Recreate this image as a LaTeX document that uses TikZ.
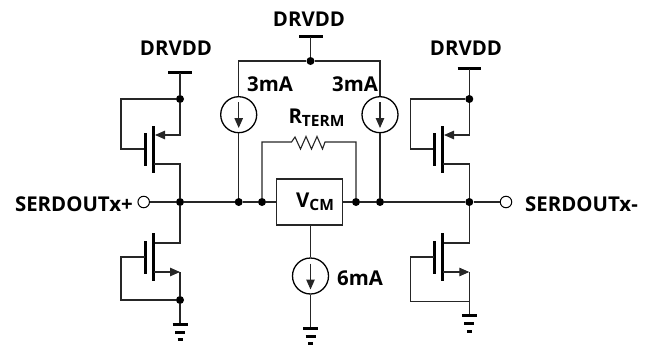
\documentclass[tikz,border=0pt]{standalone}
\usepackage{fontspec}
\setmainfont{Open Sans}
\usetikzlibrary{arrows.meta}
\tikzset{
  wire/.style={draw=black!85,line width=1.1pt},
  thick bar/.style={draw=black,line width=3pt},
  dotn/.style={circle,fill=black,inner sep=0pt,minimum size=8pt},
  port/.style={circle,draw=black,fill=white,line width=1pt,inner sep=0pt,minimum size=11.5pt},
  csrc/.style={circle,draw=black,line width=1.3pt,inner sep=0pt,minimum size=36pt},
  vbox/.style={draw=black!85,line width=1.1pt,inner sep=0pt,minimum width=66pt,minimum height=46pt},
  lbl/.style={font=\fontsize{20.4}{20.4}\selectfont\bfseries,inner sep=0pt,text=black},
  tip/.style={-{Triangle[length=10pt,width=8.5pt]},wire,shorten >=-1pt},
}
\newcommand{\gnd}[2]{%
  \draw[thick bar] (#1-7.5,#2) -- (#1+7.5,#2);
  \draw[thick bar] (#1-5,#2+8) -- (#1+5,#2+8);
  \draw[thick bar] (#1-2.5,#2+15.5) -- (#1+2.5,#2+15.5);
}
\begin{document}
\begin{tikzpicture}[x=1pt,y=-1pt]
\useasboundingbox (0,0) rectangle (652,345);
% --- left branch ---
\node[dotn] (La) at (180,99) {};
\node[dotn] (Lo) at (180,202) {};
\node[dotn] (Lb) at (180,300) {};
\node[port] (Pp) at (143.7,202) {};
\coordinate (Lv) at (180,72.7);
\coordinate (Lg) at (180,324);
\draw[thick bar] (168,72.7) -- (191.5,72.7);
\draw[wire] (Lv) -- (La);
\draw[wire] (La) -- (121,99) -- (121,149) -- (145,149);
\draw[thick bar] (145,133) -- (145,166);
\draw[thick bar] (153.5,126) -- (153.5,173);
\draw[tip] (La) -- (180,135) -- (156,135);
\draw[wire] (154,164) -- (180,164) -- (Lo);
\draw[wire] (Lo) -- (180,243) -- (154,243);
\draw[thick bar] (145,241) -- (145,274);
\draw[thick bar] (153.5,233) -- (153.5,281);
\draw[wire] (145,257) -- (121,257) -- (121,300) -- (Lb);
\draw[tip] (154,272) -- (179,272);
\draw[wire] (180,272) -- (Lb);
\draw[wire] (Lb) -- (Lg);
\gnd{180}{324}
% --- right branch ---
\node[dotn] (Ra) at (469.3,99) {};
\node[dotn] (Ro) at (469.3,202) {};
\node[port] (Pm) at (506,202) {};
\coordinate (Rv) at (469.3,68.7);
\coordinate (Rb) at (469.3,301.7);
\coordinate (Rg) at (469.3,315.7);
\draw[thick bar] (457.5,68.7) -- (481,68.7);
\draw[wire] (Rv) -- (Ra);
\draw[wire] (Ra) -- (410.7,99) -- (410.7,149) -- (434,149);
\draw[thick bar] (434,133) -- (434,166);
\draw[thick bar] (442.7,126) -- (442.7,173);
\draw[tip] (Ra) -- (469.3,135) -- (445,135);
\draw[wire] (443,164) -- (469.3,164) -- (Ro);
\draw[wire] (Ro) -- (469.3,243) -- (443,243);
\draw[thick bar] (434,241) -- (434,274);
\draw[thick bar] (442.7,233) -- (442.7,281);
\draw[wire] (434,257) -- (410.7,257) -- (410.7,301.7) -- (Rb);
\draw[tip] (443,272) -- (468.3,272);
\draw[wire] (469.3,272) -- (Rb) -- (Rg);
\gnd{469.3}{315.7}
% --- centre ---
\node[dotn] (Ct) at (310.5,61) {};
\coordinate (Cv) at (310.5,37);
\draw[thick bar] (299,37) -- (322.5,37);
\draw[wire] (Cv) -- (Ct);
\node[csrc] (I1) at (238.7,114.7) {};
\node[csrc] (I2) at (380,114.7) {};
\node[csrc] (I3) at (310.5,276) {};
\node[vbox] (V) at (309.2,202) {};
\node[dotn] (N1) at (238.7,202) {};
\node[dotn] (N2) at (262,202) {};
\node[dotn] (N3) at (356,202) {};
\node[dotn] (N4) at (380,202) {};
\draw[wire] (Ct) -| (I1.north);
\draw[wire] (Ct) -| (I2.north);
\draw[wire] (I1.south) -- (N1);
\draw[wire] (I2.south) -- (N4);
\draw[tip] (238.7,102) -- (238.7,127);
\draw[tip] (380,102) -- (380,127);
\draw[tip] (310.5,263.5) -- (310.5,288.5);
\draw[wire] (V.south -| I3) -- (I3.north);
\coordinate (Cg) at (310.5,328);
\draw[wire] (I3.south) -- (Cg);
\gnd{310.5}{328}
\draw[wire] (Pp) -- (Lo) -- (N1) -- (N2) -- (V.west);
\draw[wire] (V.east) -- (N3) -- (N4) -- (Ro) -- (Pm);
% resistor
\coordinate (Ra1) at (291.5,142);
\coordinate (Ra2) at (328,142);
\draw[wire,line join=miter] (N2) -- (262,142) -- (Ra1)
  -- (295,137) -- (300.5,149) -- (306,136.5) -- (311.5,149) -- (317,136.5) -- (322.5,149) -- (325,142) -- (Ra2)
  -- (356,142) -- (N3);
% --- labels ---
\node[lbl] (t1) at (176,48) {DRVDD};
\node[lbl] (t2) at (309,19) {DRVDD};
\node[lbl] (t3) at (466,48) {DRVDD};
\node[lbl,anchor=east] (t4) at (133,204) {SERDOUTx+};
\node[lbl,anchor=west] (t5) at (525,204) {SERDOUTx-};
\node[lbl] (t6) at (270,84) {3mA};
\node[lbl] (t7) at (355,84) {3mA};
\node[lbl] (t8) at (360,278) {6mA};
\node[lbl] (t9) at (316.5,118) {R\raisebox{-3pt}{\fontsize{15.5}{15.5}\selectfont TERM}};
\node[lbl] (t10) at (315,202) {V\raisebox{-3pt}{\fontsize{15.5}{15.5}\selectfont CM}};
\end{tikzpicture}
\end{document}
